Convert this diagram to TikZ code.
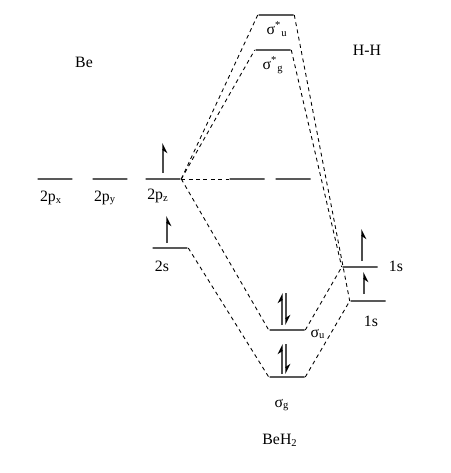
\documentclass[tikz,border=0pt]{standalone}
\usepackage{fontspec}
\setmainfont{Liberation Serif}
\usepackage{tikz}
\usetikzlibrary{arrows.meta}
\tikzset{
	levelstyle/.style={rectangle,draw=black!65,line width=0.9pt,minimum width=0.7cm,minimum height=0pt,inner sep=0pt},
	linkstyle/.style={densely dashed,black,line width=0.5pt,dash pattern=on 2.2pt off 2pt},
	upstyle/.style={line width=0.8pt,black!70,-{Stealth[harpoon,swap,length=5pt,width=5pt,black]}},
	pairupstyle/.style={line width=0.8pt,black!70,-{Stealth[harpoon,length=5pt,width=5pt,black]}},
	pairdownstyle/.style={line width=0.8pt,black!70,-{Stealth[harpoon,length=5pt,width=5pt,black]}},
	labelstyle/.style={inner sep=0pt,font=\small}
}
\begin{document}
\begin{tikzpicture}[x=0.02cm,y=-0.02cm]
		\useasboundingbox (0,0) rectangle (450,473);
		% Be orbitals
		\node[levelstyle] (px) at (55,179) {};
		\node[levelstyle] (py) at (110,179) {};
		\node[levelstyle] (pz) at (163,179) {};
		\node[levelstyle] (s2) at (170,248) {};
		% BeH2 orbitals
		\node[levelstyle] (su2) at (276,15) {};
		\node[levelstyle] (sg2) at (273,50) {};
		\node[levelstyle] (nb1) at (247,179) {};
		\node[levelstyle] (nb2) at (293,179) {};
		\node[levelstyle] (su) at (287,330) {};
		\node[levelstyle] (sg) at (287,377) {};
		% H-H orbitals
		\node[levelstyle] (h1) at (360,267) {};
		\node[levelstyle] (h2) at (368,301) {};
		% labels
		\node[labelstyle] (lbe) at (84,62) {Be};
		\node[labelstyle] (lhh) at (367,50) {H-H};
		\node[labelstyle] (lsu2) at (277,29) {σ\textsuperscript{*}\textsubscript{u}};
		\node[labelstyle] (lsg2) at (273,65) {σ\textsuperscript{*}\textsubscript{g}};
		\node[labelstyle] (lpx) at (51,198) {2p\textsubscript{x}};
		\node[labelstyle] (lpy) at (105,198) {2p\textsubscript{y}};
		\node[labelstyle] (lpz) at (158,196) {2p\textsubscript{z}};
		\node[labelstyle] (ls2) at (162,266) {2s};
		\node[labelstyle] (lsu) at (318,334) {σ\textsubscript{u}};
		\node[labelstyle] (lsg) at (282,405) {σ\textsubscript{g}};
		\node[labelstyle] (lbeh) at (280,440) {BeH\textsubscript{2}};
		\node[labelstyle] (lh1) at (396,266) {1s};
		\node[labelstyle] (lh2) at (371,321) {1s};
		% electrons
		\coordinate (ez1) at (163,173);
		\coordinate (ez2) at (163,143);
		\coordinate (es1) at (167,243);
		\coordinate (es2) at (167,216);
		\coordinate (eh1) at (362,261);
		\coordinate (eh2) at (362,229);
		\coordinate (eh3) at (364,294);
		\coordinate (eh4) at (364,272);
		\coordinate (eu1) at (282,325);
		\coordinate (eu2) at (282,293);
		\coordinate (eu3) at (286,293);
		\coordinate (eu4) at (286,325);
		\coordinate (eg1) at (282,374);
		\coordinate (eg2) at (282,344);
		\coordinate (eg3) at (286,344);
		\coordinate (eg4) at (286,374);
		\draw[upstyle] (ez1)--(ez2);
		\draw[upstyle] (es1)--(es2);
		\draw[upstyle] (eh1)--(eh2);
		\draw[upstyle] (eh3)--(eh4);
		\draw[pairupstyle] (eu1)--(eu2);
		\draw[pairdownstyle] (eu3)--(eu4);
		\draw[pairupstyle] (eg1)--(eg2);
		\draw[pairdownstyle] (eg3)--(eg4);
		% correlation lines
		\draw[linkstyle] (pz.east)--(su2.west);
		\draw[linkstyle] (pz.east)--(sg2.west);
		\draw[linkstyle] (pz.east)--(nb1.west);
		\draw[linkstyle] (pz.east)--(su.west);
		\draw[linkstyle] (s2.east)--(sg.west);
		\draw[linkstyle] (su2.east)--(h2.west);
		\draw[linkstyle] (sg2.east)--(h1.west);
		\draw[linkstyle] (su.east)--(h1.west);
		\draw[linkstyle] (sg.east)--(h2.west);
\end{tikzpicture}
\end{document}
